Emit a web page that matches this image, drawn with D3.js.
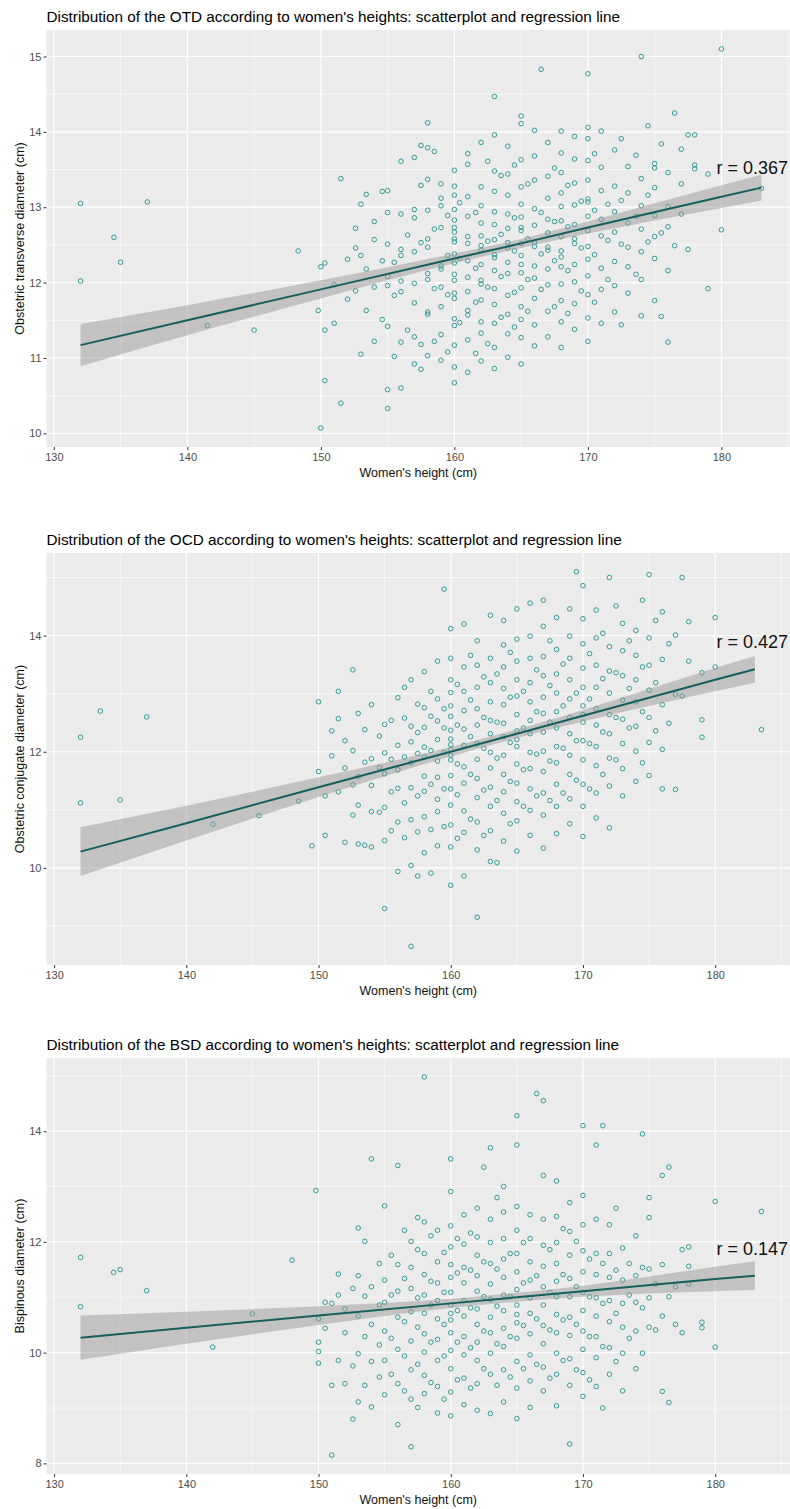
<!DOCTYPE html>
<html>
<head>
<meta charset="utf-8">
<script src="https://cdn.jsdelivr.net/npm/d3@7"></script>
<style>
body { margin: 0; background: #fff; }
svg { display: block; font-family: "Liberation Sans", Arial, sans-serif; }
.tick text { fill: #4d4d4d; font-size: 11px; }
.tick line { stroke: #333; }
</style>
</head>
<body>
<div id="chart"></div>
<script>
// each entry: [height, [diameters measured at that height]]
var otdPoints = [
	[132, [12.02, 13.05]], [134.5, [12.6]], [135, [12.27]], [137, [13.07]], [141.5, [11.43]], [145, [11.37]],
	[148.3, [12.42]], [149.8, [11.63]], [150, [10.07, 12.21]], [150.3, [10.7, 11.37, 12.26]], [151, [11.46, 11.97]],
	[151.5, [10.4, 13.38]], [152, [11.78, 12.31]], [152.6, [11.89, 12.46, 12.72]],
	[153, [11.05, 12.36, 13.04]], [153.4, [11.63, 12.18, 13.17]], [154, [11.22, 11.94, 12.57, 12.81]],
	[154.6, [11.51, 12.29, 13.21]], [155, [10.33, 10.58, 11.42, 11.96, 12.08, 12.51, 12.93, 13.22]], [155.5, [11.02, 11.83, 12.27]],
	[156, [10.6, 11.21, 11.88, 12.02, 12.36, 12.44, 12.91, 13.61]], [156.5, [11.37, 12.63]],
	[157, [10.92, 11.28, 11.73, 11.99, 12.41, 12.86, 12.97, 13.66]], [157.5, [10.85, 11.18, 12.53, 13.29, 13.82]],
	[158, [11.03, 11.58, 11.61, 12.04, 12.12, 12.47, 12.58, 12.96, 13.37, 13.79, 14.12]], [158.5, [11.22, 11.92, 12.71, 13.74]],
	[159, [10.97, 11.31, 11.68, 11.94, 12.18, 12.22, 12.73, 13.02, 13.31, 13.12]], [159.5, [11.08, 11.84, 12.36, 12.89]],
	[160, [10.67, 10.88, 11.17, 11.43, 11.52, 11.79, 11.86, 12.03, 12.11, 12.26, 12.38, 12.54, 12.58, 12.67, 12.83, 12.97, 13.16, 13.28, 13.49, 12.73]],
	[160.4, [11.47, 12.32, 13.06]],
	[161, [10.81, 11.24, 11.57, 11.63, 11.88, 12.07, 12.29, 12.52, 12.61, 12.88, 13.14, 13.57, 13.71]],
	[161.6, [11.06, 11.74, 12.19, 12.93]],
	[162, [10.96, 11.33, 11.48, 11.77, 11.98, 12.03, 12.24, 12.43, 12.49, 12.62, 12.79, 13.02, 13.27, 13.86]],
	[162.5, [11.19, 11.94, 12.55, 13.61]],
	[163, [10.86, 11.14, 11.46, 11.71, 11.92, 12.16, 12.33, 12.37, 12.57, 12.77, 12.94, 13.21, 13.48, 13.96, 14.47]],
	[163.5, [11.54, 12.08, 12.64, 13.42]],
	[164, [11.01, 11.32, 11.58, 11.83, 12.12, 12.27, 12.46, 12.53, 12.72, 12.91, 13.16, 13.44, 13.81]],
	[164.5, [11.41, 11.87, 12.42, 12.86, 13.56]],
	[165, [10.92, 11.27, 11.51, 11.68, 11.93, 12.13, 12.24, 12.36, 12.52, 12.69, 12.73, 12.87, 13.04, 13.27, 13.63, 14.11, 14.21]],
	[165.5, [11.62, 12.04, 12.58, 13.31]],
	[166, [11.16, 11.44, 11.79, 12.06, 12.22, 12.48, 12.53, 12.76, 12.98, 13.36, 13.68, 14.02]],
	[166.5, [11.91, 12.38, 12.93, 14.83]],
	[167, [11.28, 11.62, 11.97, 12.18, 12.43, 12.47, 12.66, 12.84, 13.12, 13.41, 13.86]],
	[167.5, [11.68, 12.29, 12.81, 13.52]],
	[168, [11.14, 11.48, 11.76, 11.98, 12.21, 12.34, 12.42, 12.61, 12.82, 13.01, 13.19, 13.46, 13.72, 14.01]],
	[168.5, [11.59, 12.16, 12.74, 13.29]],
	[169, [11.38, 11.72, 12.01, 12.24, 12.52, 12.58, 12.77, 13.03, 13.32, 13.64, 13.94]],
	[169.5, [11.89, 12.46, 13.08]],
	[170, [11.22, 11.53, 11.84, 12.09, 12.31, 12.48, 12.69, 12.88, 13.07, 13.11, 13.36, 13.62, 13.91, 14.06, 14.77]],
	[170.5, [11.74, 12.37, 12.96, 13.71]],
	[171, [11.46, 11.91, 12.19, 12.62, 12.84, 13.22, 13.53, 14.01]], [171.5, [12.04, 12.56, 13.04]],
	[172, [11.61, 11.96, 12.28, 12.67, 12.94, 13.28, 13.76]], [172.5, [11.44, 12.51, 13.09, 13.91]],
	[173, [11.86, 12.21, 12.47, 12.79, 13.19, 13.54]], [173.6, [12.11, 12.88, 13.69]],
	[174, [11.56, 12.04, 12.41, 12.71, 13.02, 13.38, 15.0]], [174.5, [12.54, 13.16, 14.08]],
	[175, [11.76, 12.32, 12.61, 12.89, 13.26, 13.58, 13.52]], [175.5, [11.55, 12.66, 13.84]],
	[176, [11.21, 12.16, 12.74, 13.01, 13.46]], [176.5, [12.49, 14.25]], [177, [12.91, 13.31, 13.77]], [177.5, [12.44, 13.96]],
	[178, [13.51, 13.96, 13.56]], [179, [11.92, 13.44]], [180, [12.7, 15.1]], [183, [13.25]]
];

var ocdPoints = [
	[132, [11.12, 12.25]], [133.5, [12.7]], [135, [11.17]], [137, [12.6]], [142, [10.75]], [145.5, [10.9]],
	[148.5, [11.15]], [149.5, [10.38]], [150, [11.66, 12.86]], [150.5, [10.56, 11.24]], [151, [11.93, 12.36]],
	[151.5, [11.31, 12.57, 13.04]], [152, [10.44, 11.72, 12.19]], [152.6, [10.91, 11.43, 12.02, 13.41]],
	[153, [10.41, 11.08, 11.57, 12.66]], [153.5, [10.39, 11.82, 12.38]], [154, [10.36, 10.97, 11.42, 11.88, 12.81]],
	[154.6, [10.96, 11.73, 12.27]], [155, [9.3, 10.47, 11.04, 11.62, 11.98, 12.47]], [155.5, [10.64, 11.31, 11.87, 12.54]],
	[156, [9.94, 10.79, 11.37, 11.69, 12.11, 12.93]], [156.5, [10.52, 11.12, 11.91, 12.58, 13.11]],
	[157, [8.65, 10.04, 10.83, 11.38, 11.81, 12.17, 12.44, 13.24]], [157.5, [9.86, 10.62, 11.24, 11.97, 12.33, 12.82]],
	[158, [10.26, 10.88, 11.32, 11.58, 11.91, 12.08, 12.42, 12.76, 13.38]], [158.5, [9.91, 10.66, 11.44, 12.02, 12.61, 13.04]],
	[159, [10.38, 10.97, 11.18, 11.56, 11.84, 12.21, 12.53, 12.91, 13.56]], [159.5, [10.71, 11.36, 11.99, 12.41, 12.74, 14.8]],
	[160, [9.7, 10.36, 10.74, 11.08, 11.36, 11.59, 11.86, 12.04, 12.12, 12.22, 12.37, 12.61, 12.79, 13.02, 13.24, 13.61, 14.12, 11.94]],
	[160.5, [10.51, 11.26, 11.79, 12.46, 13.16]],
	[161, [9.86, 10.61, 10.98, 11.46, 11.74, 12.11, 12.39, 12.71, 13.04, 13.46, 14.2]], [161.5, [10.84, 11.61, 12.26, 12.89, 13.66]],
	[162, [9.15, 10.31, 10.79, 11.21, 11.54, 11.87, 12.14, 12.46, 12.74, 13.11, 13.49, 13.91]], [162.5, [10.56, 11.34, 12.06, 12.59, 13.29]],
	[163, [10.11, 10.64, 11.06, 11.39, 11.72, 11.99, 12.31, 12.54, 12.86, 13.19, 13.61, 14.35]], [163.5, [10.09, 11.16, 11.89, 12.51, 13.34]],
	[164, [10.46, 10.94, 11.31, 11.61, 11.94, 12.26, 12.49, 12.81, 13.09, 13.46, 13.84, 14.26]], [164.5, [10.76, 11.49, 12.16, 12.94, 13.71]],
	[165, [10.29, 10.81, 11.14, 11.46, 11.79, 12.09, 12.36, 12.64, 12.96, 13.24, 13.56, 13.94, 14.46, 12.21]],
	[165.5, [11.06, 11.69, 12.41, 13.04]],
	[166, [10.56, 10.99, 11.36, 11.71, 11.99, 12.31, 12.54, 12.86, 13.19, 13.61, 13.99, 14.56]], [166.5, [11.24, 11.96, 12.69, 13.41]],
	[167, [10.34, 10.91, 11.29, 11.66, 12.01, 12.34, 12.66, 12.94, 13.31, 13.64, 14.16, 14.61]], [167.5, [11.16, 11.84, 12.51, 13.14, 13.91]],
	[168, [10.59, 11.06, 11.44, 11.81, 12.09, 12.41, 12.69, 13.01, 13.34, 13.76, 14.31]], [168.5, [11.29, 12.06, 12.79, 13.51]],
	[169, [10.76, 11.19, 11.61, 11.94, 12.31, 12.59, 12.91, 13.24, 13.61, 13.99, 14.46]], [169.5, [11.51, 12.19, 13.01, 15.1]],
	[170, [10.54, 11.06, 11.44, 11.86, 12.19, 12.51, 12.79, 13.11, 13.44, 13.86, 14.29, 14.86, 12.64]], [170.5, [11.36, 12.14, 12.91, 13.69]],
	[171, [10.86, 11.29, 11.76, 12.09, 12.46, 12.74, 13.11, 13.49, 13.96, 14.44]], [171.5, [11.61, 12.34, 13.26, 14.04]],
	[172, [10.69, 11.41, 11.89, 12.31, 12.64, 13.01, 13.39, 13.81, 15.0]], [172.5, [11.86, 12.59, 13.36, 14.51]],
	[173, [11.24, 11.71, 12.14, 12.56, 12.89, 13.31, 13.74, 14.21]], [173.5, [12.41, 13.09, 13.91]],
	[174, [11.49, 12.01, 12.44, 12.86, 13.24, 13.66, 14.09]], [174.5, [11.81, 12.69, 13.46, 14.61]],
	[175, [11.59, 12.16, 12.59, 13.06, 13.49, 13.96, 15.05]], [175.5, [12.36, 13.19, 14.26]],
	[176, [11.36, 12.04, 12.81, 13.59, 14.41]], [176.5, [12.49, 13.86]], [177, [11.35, 12.99, 14.01]], [177.5, [12.96, 15.0]],
	[178, [13.56, 14.24]], [179, [12.25, 12.55, 13.36]], [180, [13.46, 14.31]], [183.5, [12.38]]
];

var bsdPoints = [
	[132, [10.83, 11.72]], [134.5, [11.45]], [135, [11.5]], [137, [11.12]], [142, [10.1]], [145, [10.7]],
	[148, [11.67]], [149.8, [12.93]], [150, [9.81, 10.02, 10.19, 10.61]], [150.5, [10.44, 10.91]], [151, [8.15, 9.41, 10.89]],
	[151.5, [9.86, 11.04, 11.42]], [152, [9.44, 10.36, 10.79]], [152.6, [8.8, 9.76, 11.16]],
	[153, [9.11, 9.98, 10.66, 11.39, 12.25]], [153.5, [9.41, 10.29, 11.02, 12.01]], [154, [9.02, 9.84, 10.51, 11.19, 13.5]],
	[154.6, [9.56, 10.14, 10.86, 11.61]], [155, [9.24, 9.86, 10.39, 10.91, 11.31, 12.65]], [155.5, [9.61, 10.26, 11.04, 11.76]],
	[156, [8.7, 9.44, 10.06, 10.64, 11.11, 11.59, 13.38]], [156.5, [9.31, 9.94, 10.56, 11.34, 12.21]],
	[157, [8.3, 9.16, 9.69, 10.21, 10.74, 11.16, 11.54, 12.01]], [157.5, [9.01, 9.79, 10.46, 10.99, 11.86, 12.44]],
	[158, [9.26, 9.59, 10.01, 10.34, 10.71, 11.04, 11.41, 11.79, 12.36, 14.98]], [158.5, [9.46, 10.19, 10.86, 11.29, 12.11]],
	[159, [8.91, 9.39, 9.86, 10.24, 10.61, 10.94, 11.26, 11.64, 12.21]], [159.5, [9.16, 9.94, 10.51, 11.09, 11.81]],
	[160, [8.86, 9.29, 9.71, 10.04, 10.36, 10.59, 10.86, 11.09, 11.36, 11.59, 11.91, 12.29, 12.91, 13.5, 10.71]],
	[160.5, [9.51, 10.19, 10.76, 11.44, 12.06]],
	[161, [9.06, 9.54, 9.96, 10.29, 10.66, 10.94, 11.26, 11.54, 11.96, 12.49]], [161.5, [9.36, 10.09, 10.81, 11.49, 12.16]],
	[162, [8.96, 9.44, 9.86, 10.19, 10.51, 10.79, 11.11, 11.39, 11.76, 12.09, 12.61]], [162.5, [9.71, 10.39, 11.01, 11.64, 13.35]],
	[163, [8.9, 9.61, 9.99, 10.36, 10.64, 10.96, 11.24, 11.61, 11.99, 12.41, 13.7]], [163.5, [9.41, 10.16, 10.84, 11.51, 12.8]],
	[164, [9.11, 9.69, 10.11, 10.44, 10.76, 11.04, 11.36, 11.69, 12.06, 12.54, 13.0]], [164.5, [9.56, 10.29, 11.01, 11.79]],
	[165, [8.81, 9.36, 9.84, 10.26, 10.54, 10.86, 11.14, 11.46, 11.79, 12.21, 12.64, 13.75, 14.28, 10.69]],
	[165.5, [9.71, 10.49, 11.26, 11.99]],
	[166, [9.01, 9.49, 9.96, 10.34, 10.71, 10.99, 11.31, 11.64, 12.06, 12.49]], [166.5, [9.79, 10.61, 11.39, 14.68]],
	[167, [9.31, 9.74, 10.16, 10.49, 10.86, 11.19, 11.56, 11.94, 12.41, 13.2, 14.55]], [167.5, [9.54, 10.41, 11.09, 11.86]],
	[168, [9.04, 9.61, 9.99, 10.36, 10.69, 11.01, 11.29, 11.61, 11.99, 12.46, 13.1]], [168.5, [9.86, 10.59, 11.41, 12.24]],
	[169, [8.35, 9.41, 9.89, 10.31, 10.64, 11.01, 11.34, 11.76, 12.19, 12.71]], [169.5, [9.69, 10.51, 11.19, 12.01]],
	[170, [9.21, 9.64, 10.06, 10.39, 10.76, 11.09, 11.46, 11.84, 12.31, 12.84, 14.1]], [170.5, [9.51, 10.29, 11.01, 11.69]],
	[171, [9.39, 9.91, 10.29, 10.66, 10.99, 11.41, 11.79, 12.41, 13.75]], [171.5, [9.0, 10.11, 10.89, 11.61, 14.1]],
	[172, [9.61, 10.09, 10.56, 10.94, 11.36, 11.79, 12.31]], [172.5, [9.84, 10.71, 11.49, 12.61]],
	[173, [9.31, 9.99, 10.46, 10.89, 11.31, 11.89]], [173.5, [10.26, 11.04, 11.61]],
	[174, [9.71, 10.39, 10.91, 11.39, 12.11]], [174.5, [9.99, 10.81, 11.54, 13.95]],
	[175, [10.46, 10.99, 11.51, 12.44, 12.8]], [175.5, [10.41, 11.24]], [176, [9.3, 10.66, 11.59, 13.2]],
	[176.5, [9.1, 11.01, 13.35]], [177, [10.51, 11.19]], [177.5, [10.36, 11.86]], [178, [11.56, 11.24, 11.91]],
	[179, [10.55, 10.45]], [180, [10.1, 12.73]], [183.5, [12.55]]
];

// regression line and its confidence band, read at these heights
var fitX = [132, 140, 150, 160, 165, 170, 180, 183];
var otdFit = [11.17, 11.50, 11.91, 12.32, 12.52, 12.73, 13.14, 13.26];
var otdHalf = [0.28, 0.20, 0.12, 0.065, 0.06, 0.08, 0.15, 0.17];
var ocdFit = [10.28, 10.77, 11.39, 12.00, 12.31, 12.62, 13.24, 13.42];
var ocdHalf = [0.42, 0.30, 0.17, 0.08, 0.075, 0.10, 0.20, 0.23];
var bsdFit = [10.27, 10.45, 10.67, 10.89, 11.00, 11.11, 11.33, 11.39];
var bsdHalf = [0.40, 0.29, 0.17, 0.085, 0.08, 0.10, 0.22, 0.26];

var xTicks = [130, 140, 150, 160, 170, 180];
var otdTicks = [10, 11, 12, 13, 14, 15];
var ocdTicks = [10, 12, 14];
var bsdTicks = [8, 10, 12, 14];

var width = 790, height = 1509;
var panelLeft = 46.5, panelRight = 795.5;

var svg = d3.select('#chart').append('svg')
	.attr('width', width)
	.attr('height', height);
svg.append('rect').attr('width', width).attr('height', height).attr('fill', '#fff');

var panels = [
	{id: 'otd', title: "Distribution of the OTD according to women's heights: scatterplot and regression line",
	 yTitle: 'Obstetric transverse diameter (cm)', points: otdPoints, fit: otdFit, half: otdHalf,
	 ticks: otdTicks, r: 'r = 0.367', rY: 13.52, top: 30, bottom: 447},
	{id: 'ocd', title: "Distribution of the OCD according to women's heights: scatterplot and regression line",
	 yTitle: 'Obstetric conjugate diameter (cm)', points: ocdPoints, fit: ocdFit, half: ocdHalf,
	 ticks: ocdTicks, r: 'r = 0.427', rY: 13.89, top: 553, bottom: 965},
	{id: 'bsd', title: "Distribution of the BSD according to women's heights: scatterplot and regression line",
	 yTitle: 'Bispinous diameter (cm)', points: bsdPoints, fit: bsdFit, half: bsdHalf,
	 ticks: bsdTicks, r: 'r = 0.147', rY: 11.87, top: 1058, bottom: 1474}
];

var midpoints = function (ticks, lo, hi) {
	var step = ticks[1] - ticks[0], out = [];
	for (var v = ticks[0] - step / 2; v <= hi; v += step) if (v >= lo) out.push(v);
	return out;
};

var drawPanel = function (p) {
	var flat = [];
	p.points.forEach(function (col) { col[1].forEach(function (v) { flat.push([col[0], v]); }); });
	var xe = d3.extent(flat, function (d) { return d[0]; });
	var ye = d3.extent(flat, function (d) { return d[1]; });
	var xp = (xe[1] - xe[0]) * 0.05, yp = (ye[1] - ye[0]) * 0.05;
	var x = d3.scaleLinear().domain([xe[0] - xp, xe[1] + xp]).range([panelLeft, panelRight]);
	var y = d3.scaleLinear().domain([ye[0] - yp, ye[1] + yp]).range([p.bottom, p.top]);
	var yd = y.domain(), xd = x.domain();

	var g = svg.append('g').classed('panel-' + p.id, true);
	svg.append('clipPath').attr('id', 'clip-' + p.id)
		.append('rect').attr('x', panelLeft).attr('y', p.top)
		.attr('width', width - panelLeft).attr('height', p.bottom - p.top);

	g.append('rect')
		.attr('x', panelLeft).attr('y', p.top)
		.attr('width', width - panelLeft).attr('height', p.bottom - p.top)
		.attr('fill', '#ebebeb');

	var inner = g.append('g').attr('clip-path', 'url(#clip-' + p.id + ')');

	// grid
	inner.selectAll('line.ymin').data(midpoints(p.ticks, yd[0], yd[1])).enter().append('line')
		.attr('x1', panelLeft).attr('x2', width).attr('y1', y).attr('y2', y)
		.attr('stroke', '#fff').attr('stroke-width', 0.6);
	inner.selectAll('line.xmin').data(midpoints(xTicks, xd[0], xd[1])).enter().append('line')
		.attr('y1', p.top).attr('y2', p.bottom).attr('x1', x).attr('x2', x)
		.attr('stroke', '#fff').attr('stroke-width', 0.6);
	inner.selectAll('line.ymaj').data(p.ticks).enter().append('line')
		.attr('x1', panelLeft).attr('x2', width).attr('y1', y).attr('y2', y)
		.attr('stroke', '#fff').attr('stroke-width', 1.2);
	inner.selectAll('line.xmaj').data(xTicks).enter().append('line')
		.attr('y1', p.top).attr('y2', p.bottom).attr('x1', x).attr('x2', x)
		.attr('stroke', '#fff').attr('stroke-width', 1.2);

	// points
	inner.selectAll('circle').data(flat).enter().append('circle')
		.attr('cx', function (d) { return x(d[0]); })
		.attr('cy', function (d) { return y(d[1]); })
		.attr('r', 2.3)
		.attr('fill', 'none')
		.attr('stroke', '#329a95')
		.attr('stroke-width', 1);

	// smooth: band then line
	var band = fitX.map(function (h, i) { return {x: h, fit: p.fit[i], half: p.half[i]}; });
	inner.append('path')
		.datum(band)
		.attr('d', d3.area().curve(d3.curveMonotoneX)
			.x(function (d) { return x(d.x); })
			.y0(function (d) { return y(d.fit - d.half); })
			.y1(function (d) { return y(d.fit + d.half); }))
		.attr('fill', '#999').attr('fill-opacity', 0.5);
	inner.append('path')
		.datum(band)
		.attr('d', d3.line().x(function (d) { return x(d.x); }).y(function (d) { return y(d.fit); }))
		.attr('fill', 'none').attr('stroke', '#175e5e').attr('stroke-width', 2);

	// axes
	var ya = g.append('g').attr('transform', 'translate(' + panelLeft + ',0)')
		.call(d3.axisLeft(y).tickValues(p.ticks).tickFormat(d3.format('d')).tickSize(3).tickPadding(2));
	var xa = g.append('g').attr('transform', 'translate(0,' + p.bottom + ')')
		.call(d3.axisBottom(x).tickValues(xTicks).tickFormat(d3.format('d')).tickSize(3).tickPadding(3));
	ya.select('.domain').remove();
	xa.select('.domain').remove();
	ya.attr('font-family', null).attr('font-size', null);
	xa.attr('font-family', null).attr('font-size', null);

	// texts
	g.append('text')
		.attr('x', panelLeft).attr('y', p.top - 8)
		.attr('font-size', 15.3).attr('fill', '#000')
		.text(p.title);
	g.append('text')
		.attr('transform', 'translate(24,' + (p.top + p.bottom) / 2 + ') rotate(-90)')
		.attr('text-anchor', 'middle')
		.attr('font-size', 12.5).attr('fill', '#111')
		.text(p.yTitle);
	g.append('text')
		.attr('x', (panelLeft + width) / 2).attr('y', p.bottom + 30)
		.attr('text-anchor', 'middle')
		.attr('font-size', 12.5).attr('fill', '#111')
		.text("Women's height (cm)");
	g.append('text')
		.attr('x', 788).attr('y', y(p.rY)).attr('dy', '0.35em')
		.attr('text-anchor', 'end')
		.attr('font-size', 18).attr('fill', '#111')
		.text(p.r);
};

panels.forEach(drawPanel);
</script>
</body>
</html>
